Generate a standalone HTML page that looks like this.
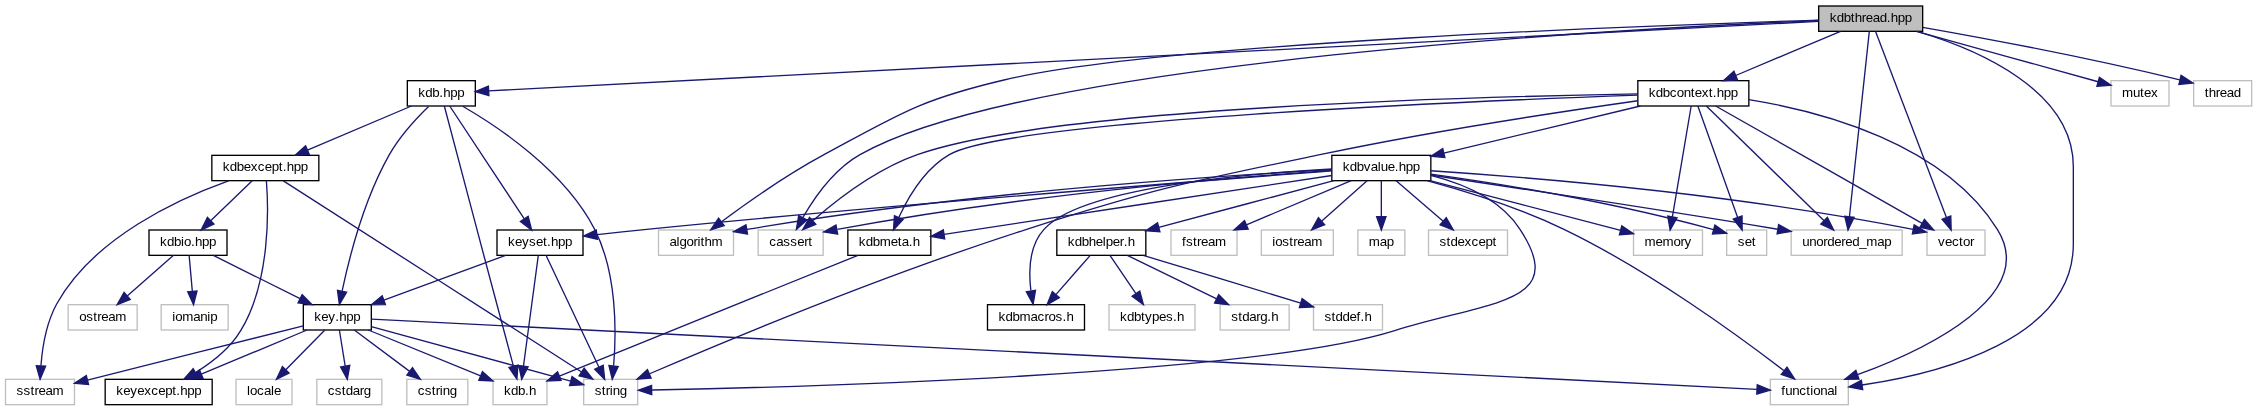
<!DOCTYPE html>
<html lang="en">
<head>
<meta charset="utf-8">
<title>kdbthread.hpp include dependency graph</title>
<style>
html,body{margin:0;padding:0;background:#fff;}
body{width:2257px;height:411px;overflow:hidden;}
svg{display:block;position:absolute;left:0;top:0;will-change:transform;}
text{font-family:"Liberation Sans",sans-serif;font-size:10px;text-anchor:start;fill:#000;}
.nb{fill:#fff;stroke:#000;stroke-width:1;}
.ng{fill:#fff;stroke:#bfbfbf;stroke-width:1;}
.nr{fill:#bfbfbf;stroke:#000;stroke-width:1;}
.e{fill:none;stroke:#191970;stroke-width:1;}
.ah{fill:#191970;stroke:#191970;stroke-width:1;}
</style>
</head>
<body>
<svg width="2257" height="411" viewBox="0 0 2257 411">
<rect x="0" y="0" width="2257" height="411" fill="#fff"/>
<g transform="scale(1.333333) translate(4 304)">
<rect class="nr" x="1360" y="-299.5" width="78" height="19"/>
<text x="1368.25 1373.5 1378.75 1384 1387 1392.25 1395.25 1400.5 1405.75 1411 1414 1419.25 1424.5" y="-287.5">kdbthread.hpp</text>
<rect class="nb" x="1224.38" y="-243.5" width="83.25" height="19"/>
<text x="1232.62 1237.88 1243.12 1248.38 1253.62 1258.88 1264.12 1267.12 1272.38 1277.62 1280.62 1283.62 1288.88 1294.12" y="-231.5">kdbcontext.hpp</text>
<path class="e" d="M1376.44,-280.5C1350.22,-269.46 1324,-258.42 1297.78,-247.38"/>
<polygon class="ah" points="1296.42,-250.61 1288.56,-243.5 1299.14,-244.15"/>
<rect class="ng" x="489.88" y="-131.5" width="56.25" height="19"/>
<text x="498.12 503.38 505.62 510.88 516.12 519.12 521.38 524.38 529.62" y="-119.5">algorithm</text>
<path class="e" d="M1360,-288.94C1237.5,-285.06 866.13,-271.9 749,-244 685.77,-229.12 671.19,-218.81 614,-188 586.01,-172.92 556,-151.7 537.13,-137.66"/>
<polygon class="ah" points="539.15,-134.8 529.06,-131.58 534.94,-140.39"/>
<rect class="ng" x="564.62" y="-131.5" width="48.75" height="19"/>
<text x="572.88 578.12 583.38 588.62 593.88 599.12 602.12" y="-119.5">cassert</text>
<path class="e" d="M1360,-288.6C1222.8,-282.78 766.27,-259.1 641,-188 621.8,-177.15 607.02,-156.15 598.2,-140.94"/>
<polygon class="ah" points="601.16,-139.05 593.29,-131.96 595.02,-142.41"/>
<rect class="ng" x="1323.75" y="-19.5" width="58.5" height="19"/>
<text x="1332 1335 1340.25 1345.5 1350.75 1353.75 1356 1361.25 1366.5 1371.75" y="-7.5">functional</text>
<path class="e" d="M1433.87,-280.4C1478.75,-267 1551,-236.49 1551,-179 1551,-179 1551,-179 1551,-121 1551,-49.22 1450.33,-23.88 1392.55,-15.24"/>
<polygon class="ah" points="1393.03,-11.78 1382.64,-13.86 1392.06,-18.71"/>
<rect class="ng" x="1339.38" y="-131.5" width="83.25" height="19"/>
<text x="1347.62 1352.88 1358.12 1363.38 1366.38 1371.62 1376.88 1379.88 1385.12 1390.38 1395.62 1403.88 1409.12" y="-119.5">unordered_map</text>
<path class="e" d="M1397.98,-280.5C1393.02,-234.15 1388.05,-187.8 1383.08,-141.44"/>
<polygon class="ah" points="1379.6,-141.82 1382.02,-131.5 1386.56,-141.07"/>
<rect class="ng" x="1441.25" y="-131.5" width="43.5" height="19"/>
<text x="1449.5 1454.75 1460 1465.25 1468.25 1473.5" y="-119.5">vector</text>
<path class="e" d="M1402.62,-280.5C1420.35,-233.95 1438.09,-187.4 1455.82,-140.84"/>
<polygon class="ah" points="1452.55,-139.6 1459.38,-131.5 1459.09,-142.09"/>
<rect class="ng" x="1579.25" y="-243.5" width="43.5" height="19"/>
<text x="1587.5 1595.75 1601 1604 1609.25" y="-231.5">mutex</text>
<path class="e" d="M1433.27,-280.5C1478.72,-267.9 1524.16,-255.3 1569.61,-242.7"/>
<polygon class="ah" points="1568.68,-239.33 1579.25,-240.03 1570.55,-246.07"/>
<rect class="nb" x="301.5" y="-243.5" width="51" height="19"/>
<text x="309.75 315 320.25 325.5 328.5 333.75 339" y="-231.5">kdb.hpp</text>
<path class="e" d="M1360,-287.96C1027.5,-270.59 694.99,-253.22 362.49,-235.85"/>
<polygon class="ah" points="362.3,-239.35 352.5,-235.33 362.67,-232.36"/>
<rect class="ng" x="1641.25" y="-243.5" width="43.5" height="19"/>
<text x="1649.5 1652.5 1657.75 1660.75 1666 1671.25" y="-231.5">thread</text>
<path class="e" d="M1438,-283.53C1482.93,-275.63 1557.74,-261.83 1630.88,-244.1"/>
<polygon class="ah" points="1631.81,-247.48 1640.71,-241.74 1630.17,-240.67"/>
<rect class="nb" x="631.88" y="-131.5" width="62.25" height="19"/>
<text x="640.12 645.38 650.62 655.88 664.12 669.38 672.38 677.62 680.62" y="-119.5">kdbmeta.h</text>
<path class="e" d="M1224.38,-232.69C1102.69,-228.24 752.42,-213.93 708,-188 689.84,-177.53 677.33,-156.41 670.19,-141.08"/>
<polygon class="ah" points="673.28,-139.4 666.11,-131.59 666.85,-142.16"/>
<rect class="ng" x="433.75" y="-19.5" width="40.5" height="19"/>
<text x="442 447.25 450.25 453.25 455.5 460.75" y="-7.5">string</text>
<path class="e" d="M1224.38,-228.46C1169.09,-220.59 1069.89,-205.71 986,-188 887.2,-167.53 862.1,-162.74 766,-132 659.99,-98.09 537.92,-47.17 483.19,-23.69"/>
<polygon class="ah" points="484.34,-20.38 473.78,-19.63 481.58,-26.8"/>
<rect class="nb" x="994.88" y="-187.5" width="74.25" height="19"/>
<text x="1003.12 1008.38 1013.62 1018.88 1024.12 1029.38 1031.62 1036.88 1042.12 1045.12 1050.38 1055.62" y="-175.5">kdbvalue.hpp</text>
<path class="e" d="M1226.3,-224.5C1177.15,-212.74 1128,-200.97 1078.85,-189.21"/>
<polygon class="ah" points="1078.04,-192.62 1069.12,-186.88 1079.66,-185.81"/>
<path class="e" d="M1224.38,-233.56C1108.59,-231.58 783.89,-223.51 684,-188 653.55,-177.28 623.69,-154.2 605.81,-138.63"/>
<polygon class="ah" points="607.83,-135.74 598.05,-131.68 603.16,-140.96"/>
<path class="e" d="M1307.62,-229.34C1361.97,-220.47 1453.72,-196.5 1494,-132 1525.25,-82.21 1440.54,-41.98 1389.14,-22.94"/>
<polygon class="ah" points="1390.25,-19.62 1379.66,-19.53 1387.88,-26.21"/>
<path class="e" d="M1275.75,-224.5C1305.2,-195.83 1334.64,-167.15 1364.08,-138.48"/>
<polygon class="ah" points="1361.64,-135.97 1371.25,-131.5 1366.52,-140.98"/>
<rect class="ng" x="1221.12" y="-131.5" width="51.75" height="19"/>
<text x="1229.38 1237.62 1242.88 1251.12 1256.38 1259.38" y="-119.5">memory</text>
<path class="e" d="M1264.39,-224.5C1259.69,-196.79 1254.99,-169.07 1250.28,-141.36"/>
<polygon class="ah" points="1246.83,-141.94 1248.61,-131.5 1253.73,-140.77"/>
<rect class="ng" x="1291" y="-131.5" width="30" height="19"/>
<text x="1299.25 1304.5 1309.75" y="-119.5">set</text>
<path class="e" d="M1269.39,-224.5C1279.34,-196.64 1289.29,-168.78 1299.24,-140.92"/>
<polygon class="ah" points="1295.95,-139.74 1302.61,-131.5 1302.54,-142.09"/>
<path class="e" d="M1282.71,-224.5C1334.34,-195.15 1385.97,-165.79 1437.6,-136.44"/>
<polygon class="ah" points="1435.87,-133.4 1446.29,-131.5 1439.33,-139.49"/>
<rect class="ng" x="365.75" y="-19.5" width="40.5" height="19"/>
<text x="374 379.25 384.5 389.75 392.75" y="-7.5">kdb.h</text>
<path class="e" d="M639.5,-112.5C564.84,-82.31 490.18,-52.12 415.52,-21.94"/>
<polygon class="ah" points="414.21,-25.18 406.25,-18.19 416.83,-18.69"/>
<path class="e" d="M994.88,-172.37C897.92,-157.65 800.97,-142.94 704.01,-128.22"/>
<polygon class="ah" points="703.49,-131.68 694.12,-126.72 704.54,-124.76"/>
<path class="e" d="M1069.12,-172.41C1092.67,-166.42 1121.26,-154.77 1136,-132 1173.26,-75.29 1112.85,-78.45 1042,-56 936.66,-22.62 590.9,-13.54 485.06,-11.51"/>
<polygon class="ah" points="484.81,-8.01 474.75,-11.32 484.68,-15"/>
<path class="e" d="M994.88,-176.83C916.01,-172.38 725.27,-160.27 556.27,-131.98"/>
<polygon class="ah" points="556.63,-128.5 546.19,-130.3 555.48,-135.4"/>
<rect class="nb" x="788.62" y="-131.5" width="66.75" height="19"/>
<text x="796.88 802.12 807.38 812.62 817.88 823.12 825.38 830.62 835.88 838.88 841.88" y="-119.5">kdbhelper.h</text>
<path class="e" d="M996.38,-168.5C952.6,-156.83 908.82,-145.15 865.04,-133.48"/>
<polygon class="ah" points="864.14,-136.86 855.38,-130.9 865.94,-130.09"/>
<rect class="nb" x="736.62" y="-75.5" width="72.75" height="19"/>
<text x="744.88 750.12 755.38 760.62 768.88 774.12 779.38 782.38 787.62 792.88 795.88" y="-63.5">kdbmacros.h</text>
<path class="e" d="M994.88,-177.24C931.84,-173.77 807.53,-163.54 779,-132 767.86,-119.89 767.43,-100.61 769.14,-86.18"/>
<polygon class="ah" points="772.66,-86.32 770.81,-75.89 765.75,-85.2"/>
<rect class="ng" x="874.25" y="-131.5" width="49.5" height="19"/>
<text x="882.5 885.5 890.75 893.75 896.75 902 907.25" y="-119.5">fstream</text>
<path class="e" d="M1009.44,-168.5C983.22,-157.46 957,-146.42 930.78,-135.38"/>
<polygon class="ah" points="929.42,-138.61 921.56,-131.5 932.14,-132.15"/>
<path class="e" d="M994.88,-176.27C924.29,-171.15 766.35,-158.38 624.01,-131.91"/>
<polygon class="ah" points="624.26,-128.4 613.79,-130.02 622.98,-135.28"/>
<path class="e" d="M1066.19,-168.48C1094.51,-160.79 1135.4,-148.21 1169,-132 1233.21,-101.02 1301.5,-50.97 1333.86,-26.07"/>
<polygon class="ah" points="1336.25,-28.65 1342,-19.75 1331.96,-23.12"/>
<path class="e" d="M1069.12,-172.68C1123.84,-164.48 1229.21,-148.71 1329.29,-132.08"/>
<polygon class="ah" points="1329.96,-135.52 1339.27,-130.45 1328.83,-128.61"/>
<rect class="ng" x="942" y="-131.5" width="54" height="19"/>
<text x="950.25 952.5 957.75 963 966 969 974.25 979.5" y="-119.5">iostream</text>
<path class="e" d="M1021.31,-168.5C1009.93,-158.38 998.55,-148.26 987.16,-138.14"/>
<polygon class="ah" points="984.84,-140.76 979.69,-131.5 989.49,-135.53"/>
<path class="e" d="M1068.47,-168.5C1116.13,-156.09 1163.79,-143.67 1211.45,-131.26"/>
<polygon class="ah" points="1210.57,-127.87 1221.12,-128.74 1212.33,-134.65"/>
<rect class="ng" x="1014.38" y="-131.5" width="35.25" height="19"/>
<text x="1022.62 1030.88 1036.12" y="-119.5">map</text>
<path class="e" d="M1032,-168.5C1032,-159.5 1032,-150.5 1032,-141.5"/>
<polygon class="ah" points="1028.5,-141.5 1032,-131.5 1035.5,-141.5"/>
<rect class="nb" x="368.75" y="-131.5" width="64.5" height="19"/>
<text x="377 382.25 387.5 392.75 398 403.25 406.25 409.25 414.5 419.75" y="-119.5">keyset.hpp</text>
<path class="e" d="M994.88,-175.86C906.05,-168.96 674.21,-151.25 481,-132 468.95,-130.83 455.89,-129.42 443.89,-128.07"/>
<polygon class="ah" points="444,-124.56 433.67,-126.9 443.21,-131.51"/>
<rect class="ng" x="1067.38" y="-131.5" width="59.25" height="19"/>
<text x="1075.62 1080.88 1083.88 1089.12 1094.38 1099.62 1104.88 1110.12 1115.38" y="-119.5">stdexcept</text>
<path class="e" d="M1043.03,-168.5C1054.82,-158.34 1066.61,-148.18 1078.4,-138.03"/>
<polygon class="ah" points="1076.11,-135.38 1085.97,-131.5 1080.68,-140.68"/>
<path class="e" d="M1069.12,-173.43C1116.67,-166.83 1200.89,-153.78 1281.14,-131.82"/>
<polygon class="ah" points="1282.19,-135.16 1290.9,-129.13 1280.33,-128.41"/>
<path class="e" d="M1069.12,-175.93C1138.72,-171.3 1292.65,-159.26 1430.84,-131.92"/>
<polygon class="ah" points="1431.64,-135.33 1440.76,-129.95 1430.27,-128.46"/>
<rect class="ng" x="827.75" y="-75.5" width="64.5" height="19"/>
<text x="836 841.25 846.5 851.75 854.75 860 865.25 870.5 875.75 878.75" y="-63.5">kdbtypes.h</text>
<path class="e" d="M828.45,-112.5C834.94,-102.92 841.44,-93.35 847.94,-83.77"/>
<polygon class="ah" points="845.04,-81.81 853.55,-75.5 850.83,-85.74"/>
<path class="e" d="M813.69,-112.5C805.09,-102.68 796.49,-92.85 787.9,-83.03"/>
<polygon class="ah" points="785.26,-85.33 781.31,-75.5 790.53,-80.72"/>
<rect class="ng" x="911.12" y="-75.5" width="51.75" height="19"/>
<text x="919.38 924.62 927.62 932.88 938.12 941.12 946.38 949.38" y="-63.5">stdarg.h</text>
<path class="e" d="M841.51,-112.5C863.84,-101.63 886.17,-90.75 908.5,-79.88"/>
<polygon class="ah" points="906.97,-76.73 917.49,-75.5 910.03,-83.02"/>
<rect class="ng" x="981.12" y="-75.5" width="51.75" height="19"/>
<text x="989.38 994.62 997.62 1002.88 1008.12 1013.38 1016.38 1019.38" y="-63.5">stddef.h</text>
<path class="e" d="M853.38,-112.5C892.77,-100.58 932.16,-88.65 971.55,-76.73"/>
<polygon class="ah" points="970.54,-73.38 981.12,-73.83 972.57,-80.08"/>
<path class="e" d="M399.73,-112.5C396.02,-84.8 392.31,-57.11 388.6,-29.41"/>
<polygon class="ah" points="385.13,-29.88 387.27,-19.5 392.07,-28.95"/>
<path class="e" d="M405.5,-112.5C418.74,-84.51 431.98,-56.53 445.23,-28.54"/>
<polygon class="ah" points="442.06,-27.04 449.5,-19.5 448.39,-30.04"/>
<rect class="nb" x="223.5" y="-75.5" width="51" height="19"/>
<text x="231.75 237 242.25 247.5 250.5 255.75 261" y="-63.5">key.hpp</text>
<path class="e" d="M375.21,-112.5C344.77,-101.28 314.33,-90.07 283.88,-78.85"/>
<polygon class="ah" points="282.67,-82.14 274.5,-75.39 285.09,-75.57"/>
<path class="e" d="M272.24,-56.5C300.33,-45.02 328.41,-33.54 356.49,-22.06"/>
<polygon class="ah" points="355.17,-18.82 365.75,-18.28 357.82,-25.3"/>
<path class="e" d="M274.5,-59.03C324.37,-45.41 374.24,-31.79 424.1,-18.17"/>
<polygon class="ah" points="423.18,-14.79 433.75,-15.53 425.03,-21.54"/>
<path class="e" d="M274.5,-64.71C620.92,-47.13 967.34,-29.56 1313.76,-11.99"/>
<polygon class="ah" points="1313.59,-8.49 1323.75,-11.48 1313.94,-15.49"/>
<rect class="ng" x="233.62" y="-19.5" width="48.75" height="19"/>
<text x="241.88 247.12 252.38 255.38 260.62 265.88 268.88" y="-7.5">cstdarg</text>
<path class="e" d="M250.53,-56.5C251.98,-47.46 253.43,-38.42 254.89,-29.37"/>
<polygon class="ah" points="251.43,-28.82 256.47,-19.5 258.34,-29.93"/>
<rect class="ng" x="0.12" y="-19.5" width="51.75" height="19"/>
<text x="8.38 13.62 18.88 21.88 24.88 30.12 35.38" y="-7.5">sstream</text>
<path class="e" d="M223.5,-59.6C169.52,-46.04 115.55,-32.49 61.57,-18.93"/>
<polygon class="ah" points="60.72,-22.33 51.88,-16.5 62.43,-15.54"/>
<rect class="ng" x="301.12" y="-19.5" width="45.75" height="19"/>
<text x="309.38 314.62 319.88 322.88 325.88 328.12 333.38" y="-7.5">cstring</text>
<path class="e" d="M261.72,-56.5C275.57,-46.16 289.42,-35.82 303.26,-25.48"/>
<polygon class="ah" points="301.17,-22.68 311.28,-19.5 305.36,-28.29"/>
<rect class="ng" x="173" y="-19.5" width="42" height="19"/>
<text x="181.25 183.5 188.75 194 199.25 201.5" y="-7.5">locale</text>
<path class="e" d="M239.67,-56.5C229.89,-46.54 220.11,-36.59 210.34,-26.63"/>
<polygon class="ah" points="207.84,-29.09 203.33,-19.5 212.83,-24.18"/>
<rect class="nb" x="74.88" y="-19.5" width="80.25" height="19"/>
<text x="83.12 88.38 93.62 98.88 104.12 109.38 114.62 119.88 125.12 128.12 131.12 136.38 141.62" y="-7.5">keyexcept.hpp</text>
<path class="e" d="M226.27,-56.5C199.83,-45.45 173.4,-34.4 146.96,-23.36"/>
<polygon class="ah" points="145.61,-26.59 137.73,-19.5 148.31,-20.13"/>
<path class="e" d="M329.24,-224.49C334.45,-204.73 347.78,-154.21 359,-112 366.67,-83.14 375.64,-49.66 381.06,-29.41"/>
<polygon class="ah" points="384.47,-30.21 383.68,-19.64 377.71,-28.4"/>
<path class="e" d="M343.03,-224.34C368.94,-209.36 419.42,-175.96 442,-132 458.9,-99.09 458.29,-54.54 456.22,-29.7"/>
<polygon class="ah" points="459.67,-29.11 455.19,-19.51 452.71,-29.81"/>
<path class="e" d="M333.28,-224.5C351.92,-196.28 370.57,-168.06 389.21,-139.84"/>
<polygon class="ah" points="386.29,-137.91 394.72,-131.5 392.13,-141.77"/>
<path class="e" d="M317.42,-224.2C308.67,-215.69 295.91,-202.05 288,-188 269.11,-154.47 257.86,-110.47 252.61,-85.83"/>
<polygon class="ah" points="255.97,-84.8 250.55,-75.69 249.11,-86.19"/>
<rect class="nb" x="154.88" y="-187.5" width="80.25" height="19"/>
<text x="163.12 168.38 173.62 178.88 184.12 189.38 194.62 199.88 205.12 208.12 211.12 216.38 221.62" y="-175.5">kdbexcept.hpp</text>
<path class="e" d="M304.61,-224.5C278.6,-213.47 252.6,-202.44 226.6,-191.41"/>
<polygon class="ah" points="225.23,-194.63 217.39,-187.5 227.97,-188.18"/>
<path class="e" d="M208.51,-168.31C250.9,-141.25 380.12,-58.32 432.18,-25.04"/>
<polygon class="ah" points="434.11,-27.96 440.63,-19.61 430.32,-22.07"/>
<path class="e" d="M167.36,-168.4C130.46,-155.21 66.27,-126.1 38.5,-76 30.7,-61.71 27.73,-43.24 26.7,-29.64"/>
<polygon class="ah" points="30.19,-29.33 26.07,-19.57 23.2,-29.77"/>
<path class="e" d="M195.79,-168.32C197.45,-147.33 198.87,-92.82 176.5,-56 168.51,-42.67 154.94,-32.1 142.65,-24.56"/>
<polygon class="ah" points="144.32,-21.49 133.89,-19.61 140.87,-27.58"/>
<rect class="nb" x="107.75" y="-131.5" width="58.5" height="19"/>
<text x="116 121.25 126.5 131.75 134 139.25 142.25 147.5 152.75" y="-119.5">kdbio.hpp</text>
<path class="e" d="M185.16,-168.5C174.78,-158.48 164.41,-148.46 154.03,-138.45"/>
<polygon class="ah" points="151.6,-140.96 146.84,-131.5 156.46,-135.93"/>
<path class="e" d="M156,-112.5C177.69,-101.66 199.37,-90.81 221.06,-79.97"/>
<polygon class="ah" points="219.49,-76.84 230,-75.5 222.62,-83.1"/>
<rect class="ng" x="116.88" y="-75.5" width="50.25" height="19"/>
<text x="125.12 127.38 132.62 140.88 146.12 151.38 153.62" y="-63.5">iomanip</text>
<path class="e" d="M137.85,-112.5C138.65,-103.49 139.46,-94.47 140.26,-85.46"/>
<polygon class="ah" points="136.78,-85.15 141.15,-75.5 143.75,-85.77"/>
<rect class="ng" x="47.12" y="-75.5" width="51.75" height="19"/>
<text x="55.38 60.62 65.88 68.88 71.88 77.12 82.38" y="-63.5">ostream</text>
<path class="e" d="M126.14,-112.5C114.56,-102.36 102.97,-92.22 91.38,-82.09"/>
<polygon class="ah" points="89.08,-84.72 83.86,-75.5 93.69,-79.45"/>
</g>
</svg>
</body>
</html>
